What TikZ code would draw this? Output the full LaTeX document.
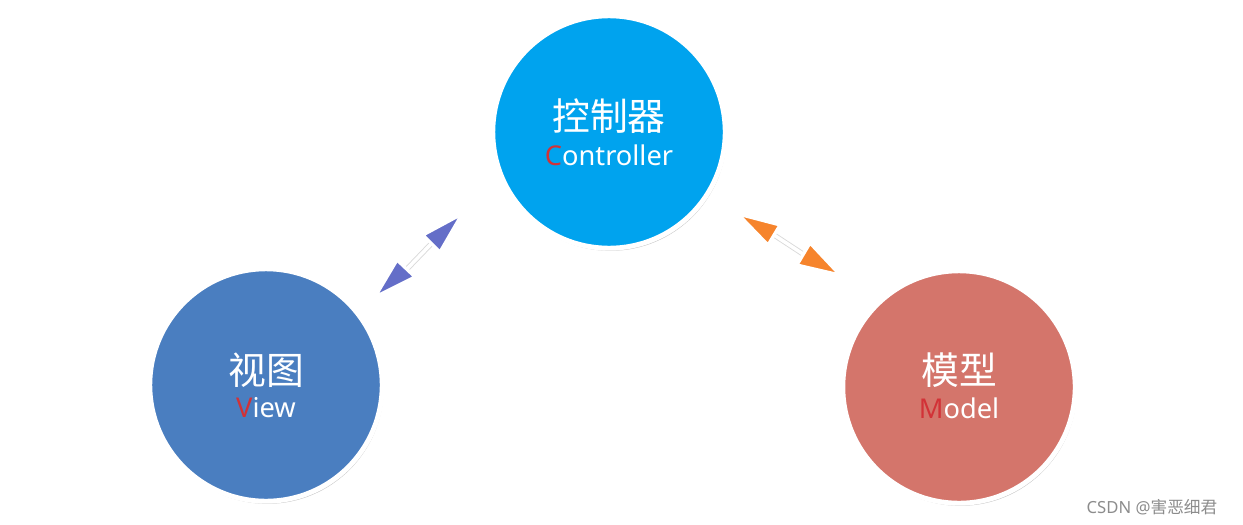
\documentclass[tikz,border=0pt]{standalone}
\usepackage{fontspec}
\setmainfont{Noto Sans}
\newfontfamily\cjk{Noto Sans CJK SC}
\definecolor{cc}{RGB}{0,163,238}
\definecolor{vc}{RGB}{74,126,192}
\definecolor{mc}{RGB}{212,117,107}
\definecolor{rl}{RGB}{210,50,55}
\definecolor{pa}{RGB}{100,110,200}
\definecolor{oa}{RGB}{246,132,44}
\tikzset{ball/.style={circle,draw=white,line width=2.8pt,minimum size=4.65cm,
  preaction={fill=black!22,transform canvas={xshift=0.8pt,yshift=-1.5pt},draw=none}},
  zh/.style={text=white,font=\cjk\fontsize{21.5}{24}\selectfont},
  en/.style={text=white,font=\fontsize{15.5}{18}\selectfont},
  hd/.style={draw=white,line width=1.8pt,line join=miter}}
\begin{document}
\begin{tikzpicture}[x=0.02cm,y=-0.02cm]
\useasboundingbox (0,0) rectangle (1243,524);
\node[ball,fill=cc] (c) at (609,132) {};
\node[zh] (ct) at (609,116) {控制器};
\node[en] (ce) at (609,155) {\textcolor{rl}{\textbf{C}}ontroller};
\node[ball,fill=vc] (v) at (266,385) {};
\node[zh] (vt) at (266,370) {视图};
\node[en] (ve) at (266,408) {\textcolor{rl}{\textbf{V}}iew};
\node[ball,fill=mc] (m) at (959,387) {};
\node[zh] (mt) at (959,370) {模型};
\node[en] (me) at (959,408) {\textcolor{rl}{\textbf{M}}odel};
% left arrow
\coordinate (l1) at (375,297); \coordinate (l2) at (462,214);
\draw[black!15,line width=3pt] (406,270) -- (431,244);
\draw[white,line width=2pt] (406,270) -- (431,244);
\draw[hd,fill=pa] (l1) -- (397,260) -- (415,277) -- cycle;
\draw[hd,fill=pa] (l2) -- (423,235) -- (440,252) -- cycle;
% right arrow
\coordinate (r1) at (738,214); \coordinate (r2) at (840,275);
\draw[black!15,line width=3pt] (774,235) -- (803,254);
\draw[white,line width=2pt] (774,235) -- (803,254);
\draw[hd,fill=oa] (r1) -- (780,225) -- (768,245) -- cycle;
\draw[hd,fill=oa] (r2) -- (810,243) -- (797,265) -- cycle;
\node[text=black!45,font=\fontsize{9.5}{10}\selectfont] (w) at (1152,507) {CSDN @{\cjk 害恶细君}};
\end{tikzpicture}
\end{document}
